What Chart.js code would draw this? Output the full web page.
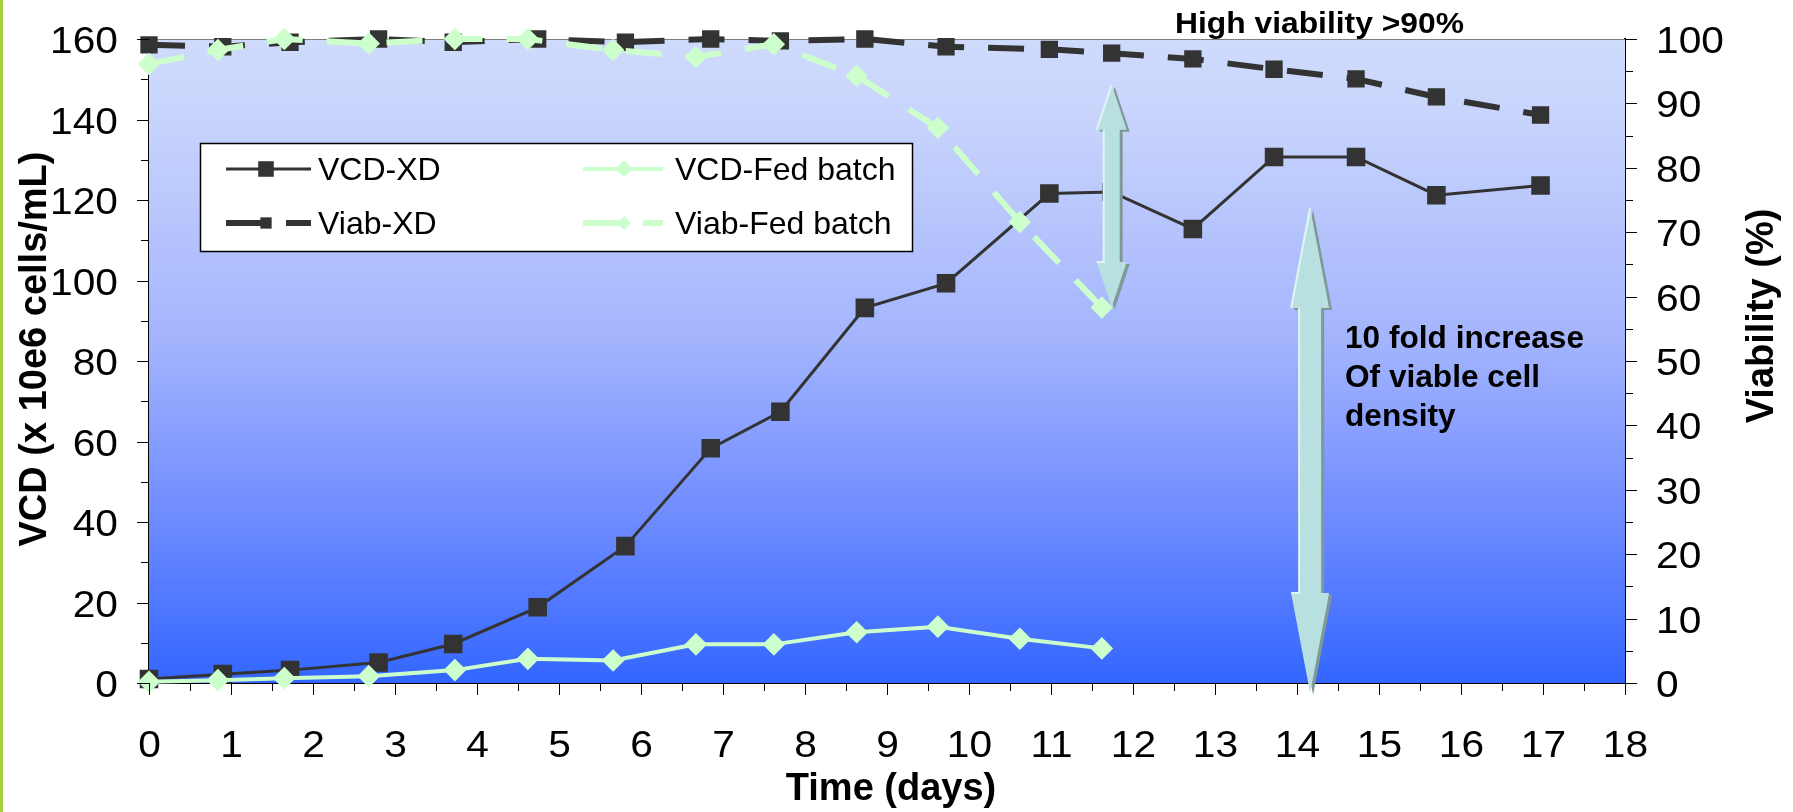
<!DOCTYPE html>
<html>
<head>
<meta charset="utf-8">
<title>VCD x Viabilidade</title>
<script src="https://cdn.jsdelivr.net/npm/chart.js@4.4.1/dist/chart.umd.min.js"></script>
<style>
    html, body { margin: 0; padding: 0; background: #fff; }
    #wrap { position: relative; width: 1793px; height: 812px; }
    #faixa { position: absolute; left: 0; top: 0; width: 3px; height: 812px; background: #a4d03c; }
</style>
</head>
<body>
<div id="wrap"><canvas id="grafico"></canvas><div id="faixa"></div></div>
<script>
// ========== DADOS ==========
const diasXD  = [0, 0.9, 1.72, 2.8, 3.71, 4.74, 5.81, 6.85, 7.7, 8.73, 9.72, 10.98, 11.74, 12.73, 13.72, 14.72, 15.7, 16.97];
const vcdXD   = [1.0, 2.2, 3.2, 5.1, 9.7, 18.8, 34.0, 58.3, 67.4, 93.2, 99.3, 121.6, 122.0, 112.8, 130.7, 130.7, 121.2, 123.6];
const viabXD  = [99.1, 98.8, 99.5, 100, 99.5, 100, 99.5, 100, 99.7, 100, 98.8, 98.4, 97.8, 96.9, 95.3, 93.8, 91.0, 88.2];

const diasFed = [0, 0.84, 1.65, 2.68, 3.73, 4.62, 5.66, 6.67, 7.62, 8.63, 9.62, 10.62, 11.62];
const vcdFed  = [0.3, 0.7, 1.2, 1.7, 3.2, 6.0, 5.6, 9.6, 9.6, 12.6, 14.0, 11.0, 8.6];
const viabFed = [96.1, 98.3, 100, 99.3, 100, 100, 98.3, 97.2, 99.2, 94.3, 86.2, 71.6, 58.3];

const legendas = ['VCD-XD', 'Viab-XD', 'VCD-Fed batch', 'Viab-Fed batch'];
const notaTopo = 'High viability >90%';
const notaFold = ['10 fold increase', 'Of viable cell', 'density'];

const CORES = {
    escuro: '#333333',
    verde: '#ccffcc',
    seta: '#b9e0e1',
    setaLuz: '#e2f5f5',
    setaSombra: '#7f9898'
};
const TRACO = [36, 24];
const FONTE = '"Liberation Sans", Arial, sans-serif';

function pares(xs, ys) {
    return xs.map((x, i) => ({ x: x, y: ys[i] }));
}

// texto com esticamento horizontal (o original esta esticado)
function texto(ctx, str, x, y, font, align, sx) {
    ctx.save();
    ctx.translate(x, y);
    ctx.scale(sx || 1, 1);
    ctx.font = font;
    ctx.textAlign = align || 'left';
    ctx.textBaseline = 'alphabetic';
    ctx.fillStyle = '#000';
    ctx.fillText(str, 0, 0);
    ctx.restore();
}

function textoVertical(ctx, str, x, y, font) {
    ctx.save();
    ctx.translate(x, y);
    ctx.rotate(-Math.PI / 2);
    ctx.font = font;
    ctx.textAlign = 'center';
    ctx.textBaseline = 'alphabetic';
    ctx.fillStyle = '#000';
    ctx.fillText(str, 0, 0);
    ctx.restore();
}

function desenharSeta(ctx, x, yTop, yBot, headLen, headHalf, shaftHalf) {
    const caminho = () => {
        ctx.beginPath();
        ctx.moveTo(x, yTop);
        ctx.lineTo(x + headHalf, yTop + headLen);
        ctx.lineTo(x + shaftHalf, yTop + headLen);
        ctx.lineTo(x + shaftHalf, yBot - headLen);
        ctx.lineTo(x + headHalf, yBot - headLen);
        ctx.lineTo(x, yBot);
        ctx.lineTo(x - headHalf, yBot - headLen);
        ctx.lineTo(x - shaftHalf, yBot - headLen);
        ctx.lineTo(x - shaftHalf, yTop + headLen);
        ctx.lineTo(x - headHalf, yTop + headLen);
        ctx.closePath();
    };
    ctx.save();
    ctx.translate(3, 2);
    caminho();
    ctx.fillStyle = CORES.setaSombra;
    ctx.fill();
    ctx.restore();

    caminho();
    ctx.fillStyle = CORES.seta;
    ctx.fill();

    // brilho no lado esquerdo
    ctx.beginPath();
    ctx.moveTo(x, yTop);
    ctx.lineTo(x - headHalf, yTop + headLen);
    ctx.moveTo(x - shaftHalf, yTop + headLen);
    ctx.lineTo(x - shaftHalf, yBot - headLen);
    ctx.lineTo(x - headHalf, yBot - headLen);
    ctx.strokeStyle = CORES.setaLuz;
    ctx.lineWidth = 2;
    ctx.stroke();
}

// ========== PLUGINS ==========
const fundo = {
    id: 'fundo',
    beforeDatasetsDraw(chart) {
        const { ctx, chartArea: a } = chart;
        const g = ctx.createLinearGradient(0, a.top, 0, a.bottom);
        g.addColorStop(0, '#cfdbfc');
        g.addColorStop(0.12, '#c8d4fc');
        g.addColorStop(0.47, '#a3b4fd');
        g.addColorStop(0.74, '#6f8cff');
        g.addColorStop(1, '#3366ff');
        ctx.save();
        ctx.fillStyle = g;
        ctx.fillRect(a.left, a.top, a.right - a.left, a.bottom - a.top);
        ctx.strokeStyle = '#7f7f7f';
        ctx.lineWidth = 1;
        ctx.beginPath();
        ctx.moveTo(a.left, a.top + 0.5);
        ctx.lineTo(a.right, a.top + 0.5);
        ctx.stroke();
        ctx.restore();
    }
};

const eixos = {
    id: 'eixos',
    afterDraw(chart) {
        const { ctx, chartArea: a, scales } = chart;
        const fTick = '37px ' + FONTE;
        ctx.save();
        ctx.strokeStyle = '#000';
        ctx.lineWidth = 1;

        scales.y.ticks.forEach(t => {
            const py = Math.round(scales.y.getPixelForValue(t.value)) + 0.5;
            const maior = t.value % 20 === 0;
            ctx.beginPath();
            ctx.moveTo(a.left - (maior ? 12 : 8), py);
            ctx.lineTo(a.left, py);
            ctx.stroke();
            if (maior) texto(ctx, String(t.value), 118, py + 13, fTick, 'right', 1.1);
        });

        scales.y1.ticks.forEach(t => {
            const py = Math.round(scales.y1.getPixelForValue(t.value)) + 0.5;
            const maior = t.value % 10 === 0;
            ctx.beginPath();
            ctx.moveTo(a.right, py);
            ctx.lineTo(a.right + (maior ? 12 : 8), py);
            ctx.stroke();
            if (maior) texto(ctx, String(t.value), 1656, py + 13, fTick, 'left', 1.1);
        });

        scales.x.ticks.forEach(t => {
            const px = Math.round(scales.x.getPixelForValue(t.value)) + 0.5;
            const maior = Math.abs(t.value - Math.round(t.value)) < 1e-6;
            ctx.beginPath();
            ctx.moveTo(px, a.bottom);
            ctx.lineTo(px, a.bottom + (maior ? 12 : 8));
            ctx.stroke();
            if (maior) texto(ctx, String(Math.round(t.value)), px, 757, fTick, 'center', 1.1);
        });
        ctx.restore();

        const fTitulo = 'bold 38px ' + FONTE;
        textoVertical(ctx, 'VCD (x 10e6 cells/mL)', 46, 349, fTitulo);
        textoVertical(ctx, 'Viability (%)', 1773, 316, fTitulo);
        texto(ctx, 'Time (days)', 891, 800, fTitulo, 'center', 1);
    }
};

const anotacoes = {
    id: 'anotacoes',
    afterDatasetsDraw(chart) {
        const { ctx, scales } = chart;
        const x1 = scales.x.getPixelForValue(11.74);
        desenharSeta(ctx, x1, scales.y1.getPixelForValue(92.9), scales.y1.getPixelForValue(58.4), 45, 15, 8);
        const x2 = scales.x.getPixelForValue(14.16);
        desenharSeta(ctx, x2, scales.y.getPixelForValue(118), scales.y.getPixelForValue(-2.5), 100, 19, 11);

        texto(ctx, notaTopo, 1175, 33, 'bold 30px ' + FONTE, 'left', 1.06);
        notaFold.forEach((l, i) => texto(ctx, l, 1345, 348 + i * 39, 'bold 31px ' + FONTE, 'left', 1.02));
    }
};

function marcador(ctx, estilo, r, x, y, cor) {
    ctx.fillStyle = cor;
    ctx.beginPath();
    if (estilo === 'rect') {
        const s = r * Math.SQRT1_2;
        ctx.rect(x - s, y - s, 2 * s, 2 * s);
    } else {
        ctx.moveTo(x - r, y);
        ctx.lineTo(x, y - r);
        ctx.lineTo(x + r, y);
        ctx.lineTo(x, y + r);
        ctx.closePath();
    }
    ctx.fill();
}

const legenda = {
    id: 'legenda',
    afterDatasetsDraw(chart) {
        const ctx = chart.ctx;
        ctx.save();
        ctx.fillStyle = '#fff';
        ctx.fillRect(200, 143, 713, 109);
        ctx.strokeStyle = '#000';
        ctx.lineWidth = 1.5;
        ctx.strokeRect(200.5, 143.5, 712, 108);

        const pos = [
            { x0: 226, x1: 311, mx: 266, tx: 318, y: 169 },
            { x0: 226, x1: 311, mx: 266, tx: 318, y: 223 },
            { x0: 583, x1: 663, mx: 624, tx: 675, y: 169 },
            { x0: 583, x1: 663, mx: 624, tx: 675, y: 223 }
        ];
        legendas.forEach((nome, i) => {
            const ds = chart.data.datasets.find(d => d.label === nome);
            const p = pos[i];
            ctx.save();
            ctx.strokeStyle = ds.borderColor;
            ctx.lineWidth = ds.borderWidth;
            ctx.setLineDash(ds.borderDash || []);
            ctx.beginPath();
            ctx.moveTo(p.x0, p.y);
            ctx.lineTo(p.x1, p.y);
            ctx.stroke();
            ctx.restore();
            marcador(ctx, ds.pointStyle, ds.pointRadius, p.mx, p.y, ds.borderColor);
            texto(ctx, nome, p.tx, p.y + 11, '32px ' + FONTE, 'left', 1);
        });
        ctx.restore();
    }
};

// ========== GRAFICO ==========
const ctx = document.getElementById('grafico').getContext('2d');
new Chart(ctx, {
    type: 'line',
    data: {
        datasets: [
            {
                label: 'Viab-Fed batch',
                data: pares(diasFed, viabFed),
                yAxisID: 'y1',
                borderColor: CORES.verde,
                backgroundColor: CORES.verde,
                borderWidth: 6,
                borderDash: TRACO,
                pointStyle: 'rectRot',
                pointRadius: 7,
                order: 0
            },
            {
                label: 'VCD-Fed batch',
                data: pares(diasFed, vcdFed),
                yAxisID: 'y',
                borderColor: CORES.verde,
                backgroundColor: CORES.verde,
                borderWidth: 4,
                pointStyle: 'rectRot',
                pointRadius: 8.5,
                order: 1
            },
            {
                label: 'VCD-XD',
                data: pares(diasXD, vcdXD),
                yAxisID: 'y',
                borderColor: CORES.escuro,
                backgroundColor: CORES.escuro,
                borderWidth: 3,
                pointStyle: 'rect',
                pointRadius: 11,
                order: 2
            },
            {
                label: 'Viab-XD',
                data: pares(diasXD, viabXD),
                yAxisID: 'y1',
                borderColor: CORES.escuro,
                backgroundColor: CORES.escuro,
                borderWidth: 6,
                borderDash: TRACO,
                pointStyle: 'rect',
                pointRadius: 8,
                order: 3
            }
        ]
    },
    options: {
        animation: false,
        responsive: true,
        maintainAspectRatio: false,
        clip: false,
        layout: { padding: { top: 39, left: 0, right: 0, bottom: 0 } },
        elements: {
            line: { tension: 0, fill: false },
            point: { borderWidth: 0, hoverRadius: 0 }
        },
        plugins: { legend: { display: false }, tooltip: { enabled: false } },
        events: [],
        scales: {
            x: {
                type: 'linear', min: 0, max: 18,
                ticks: { stepSize: 0.5, display: false },
                grid: { display: false },
                border: { display: true, color: '#000', width: 2 },
                afterFit: s => { s.height = 129; }
            },
            y: {
                position: 'left', min: 0, max: 160,
                ticks: { stepSize: 10, display: false },
                grid: { display: false },
                border: { display: true, color: '#000', width: 2 },
                afterFit: s => { s.width = 149; }
            },
            y1: {
                position: 'right', min: 0, max: 100,
                ticks: { stepSize: 5, display: false },
                grid: { display: false },
                border: { display: true, color: '#000', width: 2 },
                afterFit: s => { s.width = 168; }
            }
        }
    },
    plugins: [fundo, anotacoes, legenda, eixos]
});
</script>
</body>
</html>
